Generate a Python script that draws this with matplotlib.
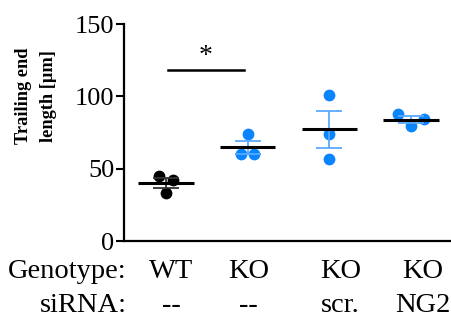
import numpy as np
import matplotlib
matplotlib.use("Agg")
import matplotlib.pyplot as plt

plt.rcParams['font.family'] = ['Liberation Serif', 'DejaVu Serif']

# data
groups = ["WT", "KO", "KO scr", "KO NG2"]
genotype = ["WT", "KO", "KO", "KO"]
sirna = ["--", "--", "scr.", "NG2"]
values = [
    [45.0, 42.5, 33.0],
    [74.0, 60.0, 60.3],
    [101.0, 74.0, 57.0],
    [88.0, 84.5, 79.5],
]
jitter = [
    [-0.082, 0.082, 0.0],
    [0.0, -0.08, 0.08],
    [0.0, 0.0, 0.0],
    [-0.163, 0.163, 0.0],
]
point_colors = ["#000000", "#0A84FF", "#0A84FF", "#0A84FF"]
err_colors = ["#333333", "#5AA9FF", "#5AA9FF", "#5AA9FF"]
yticks = [0, 50, 100, 150]
sig_pair = (0, 1)
sig_y = 118
sig_text = "*"

fig = plt.figure(figsize=(4.51, 3.21), dpi=100)
ax = fig.add_axes([0.275, 0.249, 0.723, 0.676])

for i, (vals, jit) in enumerate(zip(values, jitter)):
    v = np.array(vals)
    x = i + np.array(jit)
    ax.scatter(x, v, s=72, color=point_colors[i], zorder=2, linewidths=0)
    m = v.mean()
    sem = v.std(ddof=1) / np.sqrt(len(v))
    ax.errorbar([i], [m], yerr=[sem], fmt='none', ecolor=err_colors[i],
                elinewidth=1.3, capsize=9.5, capthick=1.3, zorder=3)
    ax.hlines(m, i - 0.34, i + 0.34, color='black', linewidth=2.2, zorder=4)

# significance
ax.plot([sig_pair[0] + 0.02, sig_pair[1] - 0.04], [sig_y, sig_y], color='black', lw=1.8)
ax.text((sig_pair[0] + sig_pair[1]) / 2 - 0.02, sig_y + 1, sig_text, ha='center',
        va='bottom', fontsize=20)

ax.set_xlim(-0.515, 3.48)
ax.set_ylim(0, 150)
ax.set_yticks(yticks)
ax.set_xticks([])
ax.tick_params(axis='y', labelsize=19, length=6, width=1.5, pad=1)
for s in ['top', 'right']:
    ax.spines[s].set_visible(False)
for s in ['left', 'bottom']:
    ax.spines[s].set_linewidth(1.6)

ax.text(-0.27, 0.668, "Trailing end\nlength [µm]", transform=ax.transAxes,
        rotation=90, ha='center', va='center', multialignment='center',
        fontsize=13.2, fontweight='bold', linespacing=1.65)

# bottom label table
tr = ax.get_xaxis_transform()
label_off = [0.06, 0.01, 0.14, 0.14]
ax.text(-0.48, -0.17, "Genotype:", transform=tr, ha='right', va='baseline', fontsize=20.5)
ax.text(-0.48, -0.327, "siRNA:", transform=tr, ha='right', va='baseline', fontsize=20.5)
for i in range(len(groups)):
    ax.text(i + label_off[i], -0.17, genotype[i], transform=tr, ha='center',
            va='baseline', fontsize=20.5)
    ax.text(i + label_off[i], -0.327, sirna[i], transform=tr, ha='center',
            va='baseline', fontsize=20.5)

fig.savefig("out.png", dpi=100)
